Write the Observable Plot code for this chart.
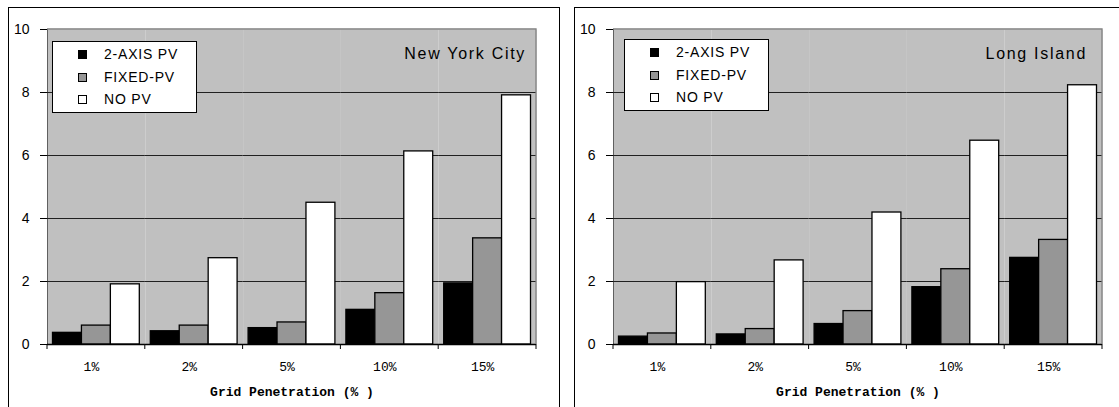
<!DOCTYPE html>
<html>
<head>
<meta charset="utf-8">
<script src="https://cdn.jsdelivr.net/npm/d3@7"></script>
<script src="https://cdn.jsdelivr.net/npm/@observablehq/plot@0.6"></script>
<style>
  html, body { margin: 0; padding: 0; background: #fff; overflow: hidden; }
  body { width: 1119px; height: 407px; position: relative; }
  .panel { position: absolute; top: 7px; width: 550px; height: 400px; border: 1px solid #000; background: #fff; }
  .panel svg { position: absolute; left: 0; top: 0; }
  .legend { position: absolute; width: 143px; height: 70px; border: 1px solid #000; background: #fff;
            font: 14px "Liberation Sans", Arial, sans-serif; letter-spacing: 0.8px; color: #000; }
  .legend .row { position: absolute; left: 0; height: 16px; line-height: 16px; }
  .legend .sw { position: absolute; left: 25px; top: 4px; width: 7px; height: 7px; border: 1px solid #000; }
  .legend .lab { position: absolute; left: 51px; top: 0; white-space: nowrap; }
  .title { position: absolute; font: 16px "Liberation Sans", Arial, sans-serif; letter-spacing: 1.7px; color: #000; white-space: nowrap; }
</style>
</head>
<body>
<script>
// Categories, series and values
const categories = ["1%", "2%", "5%", "10%", "15%"];
const seriesNames = ["2-AXIS PV", "FIXED-PV", "NO PV"];
const seriesColors = ["#000000", "#969696", "#ffffff"];
const yTicks = [0, 2, 4, 6, 8, 10];
const gridValues = [2, 4, 6, 8];
const xTitle = "Grid Penetration (% )";

const nycTwoAxis = [0.37, 0.42, 0.52, 1.10, 1.94];
const nycFixed   = [0.60, 0.60, 0.70, 1.63, 3.37];
const nycNoPV    = [1.91, 2.74, 4.50, 6.13, 7.91];

const liTwoAxis  = [0.25, 0.32, 0.65, 1.82, 2.75];
const liFixed    = [0.35, 0.49, 1.06, 2.39, 3.32];
const liNoPV     = [1.98, 2.67, 4.19, 6.47, 8.23];

const panels = [
  {title: "New York City", left: 8, series: [nycTwoAxis, nycFixed, nycNoPV], legend: [43, 33], titleRight: 33},
  {title: "Long Island", left: 574, series: [liTwoAxis, liFixed, liNoPV], legend: [49, 31], titleRight: 38}
];

function tidy(seriesValues) {
  const rows = [];
  categories.forEach((cat, i) => {
    seriesNames.forEach((s, j) => rows.push({cat, series: s, value: seriesValues[j][i]}));
  });
  return rows;
}

for (const p of panels) {
  const panel = document.createElement("div");
  panel.className = "panel";
  panel.style.left = p.left + "px";
  document.body.appendChild(panel);

  const rows = tidy(p.series);
  const chart = Plot.plot({
    width: 550,
    height: 400,
    marginLeft: 38,
    marginRight: 23,
    marginTop: 21,
    marginBottom: 64,
    style: {fontFamily: "'Liberation Sans', Arial, sans-serif", fontSize: "14px", background: "transparent", overflow: "visible"},
    facet: {data: rows, x: "cat", marginTop: 0, marginBottom: 0, marginLeft: 0, marginRight: 0},
    fx: {domain: categories, padding: 0, round: false, axis: "bottom", tickSize: 0, tickPadding: 17,
         label: xTitle, labelAnchor: "center", labelOffset: 51},
    x: {domain: seriesNames, paddingInner: 0, paddingOuter: 0.19, round: false, axis: null},
    y: {domain: [0, 10], ticks: yTicks, tickSize: 7, tickPadding: 11, label: null, line: true},
    color: {domain: seriesNames, range: seriesColors},
    marks: [
      Plot.frame({fill: "#c0c0c0", stroke: "none"}),
      Plot.ruleY(gridValues, {stroke: "#202020", strokeWidth: 1}),
      Plot.barY(rows, {x: "series", y: "value", fill: "series", stroke: "#000", strokeWidth: 1.3}),
      Plot.ruleY([0], {stroke: "#000", strokeWidth: 1.3})
    ]
  });
  panel.appendChild(chart);

  const svg = d3.select(chart.tagName.toLowerCase() === "svg" ? chart : chart.querySelector("svg"));

  // Axis typography
  const yLabels = new Set(yTicks.map(String));
  svg.selectAll("text").filter(function() { return yLabels.has(this.textContent.trim()); })
    .style("font-size", "14px")
    .style("font-family", "'Liberation Sans', Arial, sans-serif");
  svg.selectAll('g[aria-label^="fx-axis"] text')
    .style("font-family", "'Liberation Mono', 'Courier New', monospace")
    .style("font-size", "13px")
    .attr("dx", -5);
  svg.selectAll("text").filter(function() { return this.textContent === xTitle; })
    .attr("dx", 0)
    .style("font-family", "'Liberation Mono', 'Courier New', monospace")
    .style("font-size", "13px").style("font-weight", "bold");

  // Tick marks at category boundaries and the plot-area border, from the plot's scales
  const fxs = chart.scale("fx");
  const ys = chart.scale("y");
  const band = d3.scaleBand().domain(fxs.domain).range(fxs.range)
    .paddingInner(fxs.paddingInner ?? 0).paddingOuter(fxs.paddingOuter ?? 0).align(fxs.align ?? 0.5);
  const y0 = ys.apply(0), yTop = ys.apply(10);
  const xStart = band(categories[0]);
  const xEnd = band(categories[categories.length - 1]) + band.bandwidth();
  const bounds = categories.map(c => band(c)).concat([xEnd]);
  svg.append("g").selectAll("line").data(bounds).join("line")
    .attr("x1", d => d).attr("x2", d => d).attr("y1", y0).attr("y2", y0 + 5)
    .attr("stroke", "#000").attr("stroke-width", 1);
  svg.append("path")
    .attr("d", `M${xStart},${yTop}H${xEnd}V${y0}`)
    .attr("fill", "none").attr("stroke", "#808080").attr("stroke-width", 1.3);

  // Legend
  const legend = document.createElement("div");
  legend.className = "legend";
  legend.style.left = p.legend[0] + "px";
  legend.style.top = p.legend[1] + "px";
  seriesNames.forEach((s, j) => {
    const row = document.createElement("div");
    row.className = "row";
    row.style.top = (4 + j * 22.5) + "px";
    const sw = document.createElement("div");
    sw.className = "sw";
    sw.style.background = seriesColors[j];
    const lab = document.createElement("div");
    lab.className = "lab";
    lab.textContent = s;
    row.appendChild(sw);
    row.appendChild(lab);
    legend.appendChild(row);
  });
  panel.appendChild(legend);

  // Panel title
  const t = document.createElement("div");
  t.className = "title";
  t.textContent = p.title;
  t.style.right = p.titleRight + "px";
  t.style.top = "37px";
  panel.appendChild(t);
}
</script>
</body>
</html>
